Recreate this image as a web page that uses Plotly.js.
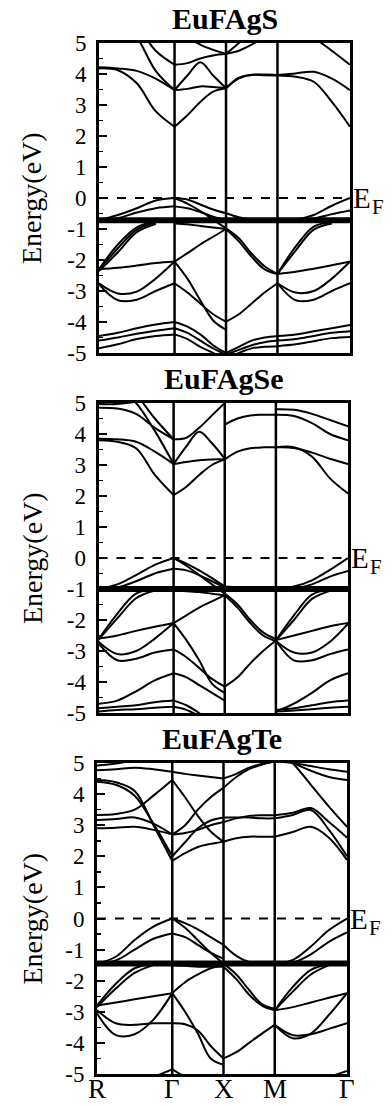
<!DOCTYPE html>
<html>
<head>
<meta charset="utf-8">
<script src="https://cdn.plot.ly/plotly-3.0.1.min.js"></script>
<style>
  html, body { margin: 0; padding: 0; background: #fff; }
  #chart { width: 392px; height: 1106px; }
</style>
</head>
<body>
<div id="chart"></div>
<script>
// High-symmetry path R-Γ-X-M-Γ (cumulative k distance, normalised)
const kNodes = [0, 0.301, 0.506, 0.711, 1];
const kLabels = ['R', 'Γ', 'X', 'M', 'Γ'];
const energyTicks = [-5, -4, -3, -2, -1, 0, 1, 2, 3, 4, 5];
const energyTickText = ['-5', '-4', '-3', '-2', '-1', '0', '1', '2', '3', '4', '5'];
const compounds = ['EuFAgS', 'EuFAgSe', 'EuFAgTe'];
const fermiLevel = 0;
const n = null;

// Band energies (eV), 17 samples along the path:
// R .. .. .. Γ | .. .. .. X | .. .. .. M | .. .. .. Γ
const bandsS = [
  [4.18, 4.12, 3.70, 2.80, 2.30, 2.67, 3.10, 3.43, 3.54, 3.86, 3.97, 3.96, 3.95, 3.91, 3.75, 3.10, 2.30],
  [4.22, 4.18, 4.10, 3.85, 3.48, 3.52, 3.60, 3.58, 3.54, 3.88, 3.98, 3.98, 3.97, 4.02, 4.07, 3.85, 3.48],
  [6.40, 5.90, 5.20, 4.10, 3.48, 3.95, 4.38, 3.95, 3.54, n, n, n, n, n, n, n, n],
  [7.00, 6.30, 5.60, 4.75, 4.30, 4.35, 4.50, 4.60, 4.65, 5.00, 5.40, 5.80, 6.40, 5.80, 5.20, 4.75, 4.30],
  [n, n, n, n, 5.60, 5.20, 4.95, 4.78, 4.65, 4.75, 4.95, 5.20, 5.50, n, n, n, n],
  [-0.72, -0.55, -0.33, -0.08, 0.00, -0.05, -0.21, -0.37, -0.49, -0.62, -0.70, -0.72, -0.72, -0.70, -0.55, -0.25, 0.00],
  [-0.75, -0.65, -0.47, -0.33, -0.27, -0.33, -0.45, -0.60, -0.72, n, n, n, -0.74, -0.72, -0.66, -0.52, -0.40],
  [n, n, n, n, 0.00, -0.18, -0.42, -0.70, -0.98, -1.30, -1.80, -2.20, -2.45, n, n, n, n],
  [n, n, n, n, -0.82, -0.85, -0.90, -0.95, -1.00, -1.40, -1.90, -2.30, -2.45, n, n, n, n],
  [-2.30, -2.25, -2.18, -2.10, -2.05, -1.78, -1.50, -1.25, -1.00, n, n, n, -2.45, -2.38, -2.28, -2.17, -2.05],
  [-2.30, -1.50, -0.95, -0.76, n, n, n, n, n, n, n, n, -2.45, -1.57, -0.92, -0.78, n],
  [-2.33, -1.62, -1.02, -0.80, n, n, n, n, n, n, n, n, -2.45, -1.70, -1.02, -0.82, n],
  [-2.36, -1.75, -1.10, -0.84, n, n, n, n, n, n, n, n, n, n, n, n, n],
  [-2.75, -3.08, -3.02, -2.60, -2.05, -2.60, -3.30, -3.95, -4.25, n, n, n, -2.75, -3.05, -3.00, -2.60, -2.05],
  [-2.78, -3.30, -3.28, -3.00, -2.75, -3.05, -3.40, -3.75, -3.99, -3.75, -3.40, -3.05, -2.75, -3.30, -3.28, -3.00, -2.75],
  [-4.45, -4.35, -4.20, -4.08, -4.00, -4.15, -4.40, -4.75, -5.00, -4.80, -4.60, -4.50, -4.45, -4.40, -4.30, -4.20, -4.10],
  [-4.60, -4.50, -4.38, -4.28, -4.20, -4.35, -4.60, -4.85, -5.05, -4.90, -4.75, -4.65, -4.60, -4.55, -4.45, -4.35, -4.30],
  [-4.85, -4.72, -4.55, -4.45, -4.40, -4.55, -4.80, -5.00, -5.20, -5.00, -4.85, -4.80, -4.78, -4.72, -4.62, -4.52, -4.48]
];

const bandsSe = [
  [3.80, 3.75, 3.54, 2.68, 2.03, 2.30, 2.68, 3.00, 3.18, 3.43, 3.54, 3.57, 3.57, 3.57, 3.27, 2.57, 2.08],
  [3.85, 3.83, 3.75, 3.43, 3.03, 3.10, 3.15, 3.18, 3.18, n, n, n, 3.57, 3.55, 3.40, 3.20, 3.03],
  [6.00, 5.50, 5.00, 4.10, 3.03, 3.60, 4.07, 3.70, 3.20, n, n, n, n, n, n, n, n],
  [6.50, 6.00, 5.30, 4.50, 3.83, 3.88, 4.20, 4.60, 5.00, 5.40, n, n, n, n, n, n, n],
  [n, n, n, n, n, n, n, n, 4.30, 4.50, 4.60, 4.62, 4.62, 4.58, 4.35, 4.00, 3.80],
  [n, n, n, n, n, n, n, n, n, n, n, n, 4.80, 4.78, 4.65, 4.45, 4.25],
  [4.85, 4.82, 4.65, 4.20, 3.83, n, n, n, n, n, n, n, n, n, n, n, n],
  [4.97, 4.97, 5.05, 5.30, n, n, n, n, n, n, n, n, n, n, n, n, n],
  [-1.00, -0.85, -0.55, -0.22, 0.00, -0.18, -0.40, -0.65, -0.92, -0.95, -1.00, -1.02, -1.00, -0.92, -0.72, -0.38, 0.00],
  [-1.00, -0.95, -0.75, -0.50, -0.35, -0.40, -0.55, -0.75, -0.95, n, n, n, -1.00, -0.98, -0.85, -0.60, -0.42],
  [n, n, n, n, 0.00, -0.25, -0.55, -0.85, -1.15, -1.50, -2.00, -2.40, -2.62, n, n, n, n],
  [n, n, n, n, -1.05, -1.07, -1.10, -1.15, -1.20, -1.60, -2.10, -2.50, -2.68, n, n, n, n],
  [-2.60, -2.50, -2.35, -2.22, -2.10, -1.85, -1.60, -1.40, -1.20, n, n, n, -2.65, -2.50, -2.35, -2.20, -2.10],
  [-2.62, -1.80, -1.15, -1.02, n, n, n, n, n, n, n, n, -2.66, -1.85, -1.18, -1.02, n],
  [-2.64, -1.95, -1.30, -1.05, n, n, n, n, n, n, n, n, -2.66, -2.00, -1.32, -1.06, n],
  [-2.70, -3.10, -3.00, -2.60, -2.10, -2.65, -3.30, -4.05, -4.35, n, n, n, -2.68, -3.05, -3.05, -2.70, -2.12],
  [-2.75, -3.30, -3.25, -3.05, -2.95, -3.20, -3.55, -3.90, -4.15, -3.85, -3.40, -3.00, -2.66, -3.30, -3.30, -3.10, -2.95],
  [-4.70, -4.60, -4.30, -3.95, -3.72, -3.85, -4.10, -4.35, -4.60, n, n, n, -4.95, -4.70, -4.35, -3.95, -3.72],
  [-4.85, -4.80, -4.75, -4.65, -4.60, -4.75, -5.00, -5.30, n, n, n, n, -4.90, -4.85, -4.75, -4.65, -4.60],
  [-4.95, -4.90, -4.88, -4.83, -4.80, -4.90, -5.10, n, n, n, n, n, -4.95, -4.92, -4.88, -4.83, -4.80]
];

const bandsTe = [
  [4.45, 4.38, 4.10, 3.00, 1.85, 2.10, 2.30, 2.40, 2.47, 2.58, 2.63, 2.63, 2.63, 2.78, 2.95, 2.60, 1.88],
  [4.40, 4.30, 3.95, 3.05, 2.00, 2.45, 2.90, 3.15, 3.25, 3.25, 3.25, 3.22, 3.22, 3.33, 3.49, 2.85, 2.00],
  [3.33, 3.36, 3.50, 3.95, 4.45, 3.90, 3.30, 2.80, 2.47, n, n, n, n, n, n, n, n],
  [3.17, 3.20, 3.25, 3.05, 2.70, 3.00, 3.50, 3.90, 4.20, 4.55, 4.80, 4.95, 5.05, n, n, n, n],
  [2.90, 2.92, 2.95, 2.85, 2.70, 2.75, 2.85, 3.00, 3.10, 3.22, 3.30, 3.32, 3.32, 3.40, 3.55, 3.10, 2.60],
  [4.77, 4.80, 4.85, 4.80, 4.72, 4.65, 4.60, 4.55, 4.50, 4.65, 4.85, 4.97, 5.05, n, n, n, n],
  [4.92, 4.98, 5.10, n, n, n, n, n, n, n, n, n, 5.60, 5.00, 4.30, 3.60, 2.95],
  [n, n, n, n, n, n, n, n, n, n, n, n, 5.20, 5.00, 4.75, 4.55, 4.45],
  [n, n, n, n, n, n, n, n, n, n, n, n, 5.05, 5.00, 4.90, 4.80, 4.72],
  [-1.45, -1.23, -0.69, -0.26, 0.00, -0.15, -0.35, -0.60, -0.85, -1.20, -1.40, -1.47, -1.48, -1.33, -0.90, -0.37, 0.00],
  [-1.45, -1.35, -1.00, -0.65, -0.48, -0.60, -0.85, -1.10, -1.30, n, n, n, -1.48, -1.42, -1.15, -0.75, -0.45],
  [n, n, n, n, 0.00, -0.30, -0.70, -1.10, -1.45, -1.80, -2.30, -2.75, -2.90, n, n, n, n],
  [n, n, n, n, -1.50, -1.52, -1.55, -1.55, -1.55, -1.95, -2.45, -2.80, -2.95, n, n, n, n],
  [-2.80, -2.70, -2.60, -2.50, -2.40, -2.05, -1.80, -1.60, -1.50, n, n, n, -2.95, -2.85, -2.70, -2.55, -2.40],
  [-2.80, -2.10, -1.60, -1.47, n, n, n, n, n, n, n, n, -2.95, -2.20, -1.65, -1.48, n],
  [-2.85, -2.25, -1.75, -1.50, n, n, n, n, n, n, n, n, -2.95, -2.35, -1.80, -1.50, n],
  [-2.95, -3.37, -3.42, -3.37, -3.37, -3.40, -3.60, -4.10, -4.50, -4.30, -4.00, -3.70, -3.42, -3.75, -3.72, -3.55, -3.37],
  [-3.05, -3.75, -3.72, -3.25, -2.40, -3.00, -3.70, -4.50, -4.70, n, n, n, -3.42, -3.85, -3.70, -3.10, -2.40],
  [n, n, n, -5.10, -4.85, -5.10, n, n, n, n, n, n, n, n, n, -5.10, -4.90]
];

// f-band manifold (flat, heavily degenerate) drawn as a thick level
const fLevels = [-0.72, -1.0, -1.45];
const bandSets = [bandsS, bandsSe, bandsTe];

// k sample positions: quarter steps inside each path segment
const kGrid = [];
for (let s = 0; s < kNodes.length - 1; s++) {
  for (let j = 0; j < 4; j++) kGrid.push(kNodes[s] + (kNodes[s + 1] - kNodes[s]) * j / 4);
}
kGrid.push(kNodes[kNodes.length - 1]);
const nodeIdx = [4, 8, 12];

// split a band at the high-symmetry points so each segment is smoothed on its own
function bandXY(vals) {
  const x = [], y = [];
  vals.forEach((v, i) => {
    x.push(kGrid[i]); y.push(v);
    if (nodeIdx.includes(i)) { x.push(null); y.push(null); x.push(kGrid[i]); y.push(v); }
  });
  return { x, y };
}

const serif = 'Liberation Serif, Times New Roman, serif';
const W = 392, H = 1106;
// panel frames in pixels: [left, right, top, bottom]
const frames = [
  [99, 350, 43, 353],
  [98.5, 348, 403, 713],
  [97, 347, 763, 1074]
];

const traces = [];
const layout = {
  width: W, height: H,
  margin: { l: 0, r: 0, t: 0, b: 0 },
  paper_bgcolor: '#fff', plot_bgcolor: '#fff',
  showlegend: false, hovermode: false,
  annotations: [], shapes: []
};

frames.forEach((f, p) => {
  const xa = p === 0 ? 'x' : 'x' + (p + 1);
  const ya = p === 0 ? 'y' : 'y' + (p + 1);
  const xKey = p === 0 ? 'xaxis' : 'xaxis' + (p + 1);
  const yKey = p === 0 ? 'yaxis' : 'yaxis' + (p + 1);
  const last = p === frames.length - 1;

  bandSets[p].forEach(b => {
    const xy = bandXY(b);
    traces.push({
      type: 'scatter', mode: 'lines', x: xy.x, y: xy.y, xaxis: xa, yaxis: ya,
      line: { color: '#000', width: 2, shape: 'spline', smoothing: 1 },
      connectgaps: false
    });
  });
  traces.push({
    type: 'scatter', mode: 'lines', x: [kNodes[0], kNodes[kNodes.length - 1]],
    y: [fLevels[p], fLevels[p]], xaxis: xa, yaxis: ya,
    line: { color: '#000', width: 6 }
  });

  layout[xKey] = {
    domain: [f[0] / W, f[1] / W], range: [0, 1], anchor: ya,
    tickmode: 'array', tickvals: [], showticklabels: false, ticks: '',
    showgrid: false, zeroline: false, showline: true, mirror: true,
    linecolor: '#000', linewidth: 3, fixedrange: true
  };
  layout[yKey] = {
    domain: [1 - f[3] / H, 1 - f[2] / H], range: [-5, 5], anchor: xa,
    tickmode: 'array', tickvals: energyTicks, ticktext: energyTickText,
    ticks: 'inside', ticklen: 8, tickwidth: 2, tickcolor: '#000',
    minor: { ticks: 'inside', dtick: 0.5, ticklen: 4, tickwidth: 1.5, tickcolor: '#000', showgrid: false },
    showgrid: false, zeroline: false, showline: true, mirror: true, linecolor: '#000', linewidth: 3,
    tickfont: { family: serif, size: 23, color: '#000' }, ticklabelstandoff: 5,
    fixedrange: true
  };

  // high-symmetry points inside the path
  kNodes.slice(1, 4).forEach(k => {
    layout.shapes.push({
      type: 'line', xref: xa, yref: ya + ' domain', x0: k, x1: k, y0: 0, y1: 1,
      line: { color: '#000', width: 2.5 }, layer: 'below'
    });
  });
  layout.shapes.push({
    type: 'line', xref: xa, yref: ya, x0: 0, x1: 1, y0: fermiLevel, y1: fermiLevel,
    line: { color: '#000', width: 2, dash: 'dash' }
  });

  layout.annotations.push({
    text: compounds[p], xref: 'paper', yref: 'paper',
    x: (f[0] + f[1]) / 2 / W, y: 1 - (f[2] - 25) / H, xanchor: 'center', yanchor: 'middle',
    showarrow: false, font: { family: serif, size: 30, color: '#000', weight: 'bold' }
  });
  layout.annotations.push({
    text: 'Energy(eV)', xref: 'paper', yref: 'paper', textangle: -90,
    x: 32 / W, y: 1 - (f[2] + f[3]) / 2 / H, xanchor: 'center', yanchor: 'middle',
    showarrow: false, font: { family: serif, size: 28, color: '#000' }
  });
  // Fermi level marker: E with a lowered F
  layout.annotations.push({
    text: 'E', xref: 'paper', yref: ya,
    x: (f[1] + 1) / W, y: fermiLevel, xanchor: 'left', yanchor: 'middle',
    showarrow: false, font: { family: serif, size: 29, color: '#000' }
  });
  layout.annotations.push({
    text: 'F', xref: 'paper', yref: ya,
    x: (f[1] + 20) / W, y: fermiLevel, yshift: -9, xanchor: 'left', yanchor: 'middle',
    showarrow: false, font: { family: serif, size: 21, color: '#000' }
  });

  if (last) {
    kNodes.forEach((k, i) => {
      layout.annotations.push({
        text: kLabels[i], xref: xa, yref: 'paper', x: k, y: 1 - 1089 / H,
        xanchor: 'center', yanchor: 'middle', showarrow: false,
        font: { family: serif, size: 27, color: '#000' }
      });
    });
  }
});

Plotly.newPlot('chart', traces, layout, { staticPlot: true, displayModeBar: false });
</script>
</body>
</html>
